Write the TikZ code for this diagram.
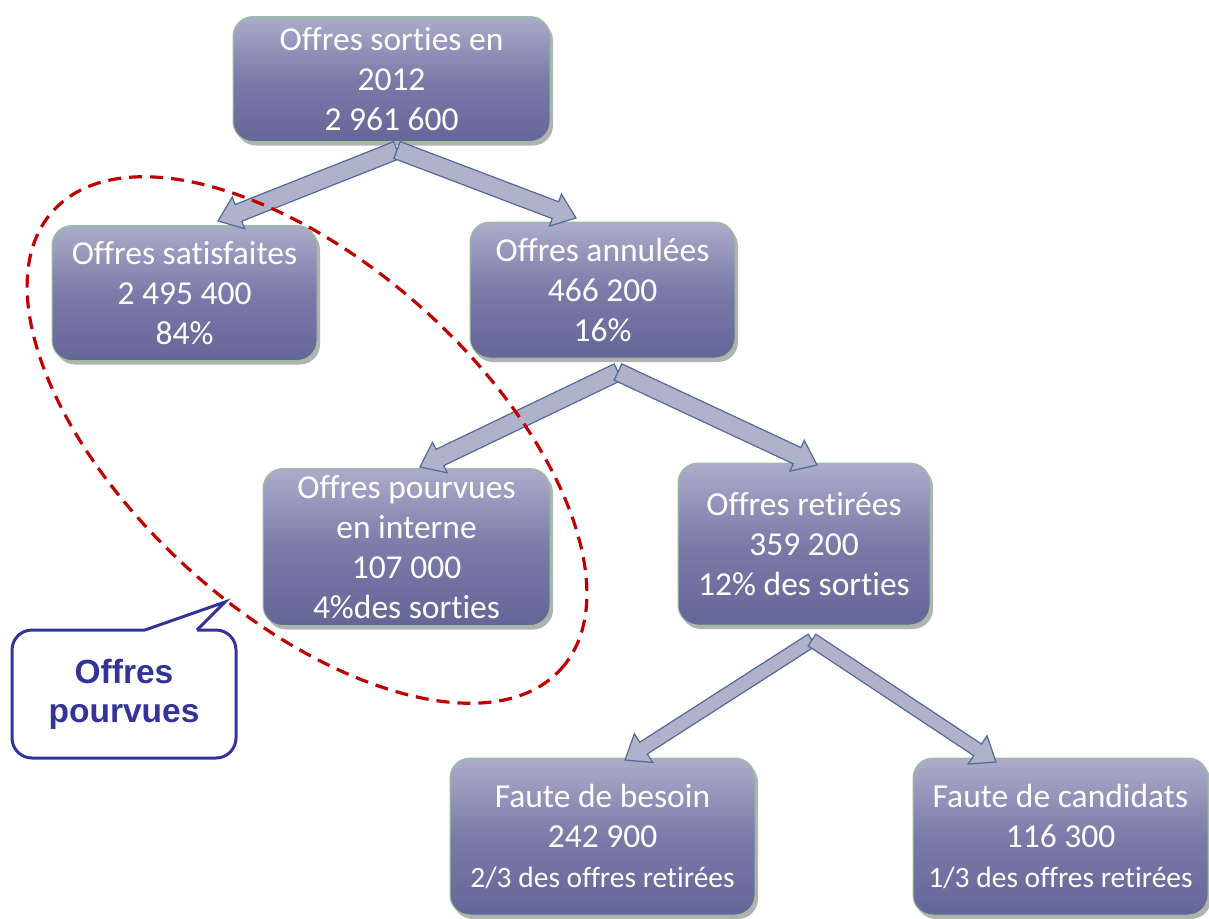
\documentclass[tikz,border=0pt]{standalone}
\usepackage{fontspec}
\setmainfont{Carlito}[Ligatures={NoCommon}]
\newfontfamily\calloutfont{Liberation Sans}
\usetikzlibrary{calc,shadows}
\definecolor{boxtop}{RGB}{172,172,202}
\definecolor{boxmid}{RGB}{122,123,168}
\definecolor{boxbot}{RGB}{101,102,152}
\definecolor{boxline}{RGB}{150,195,150}
\definecolor{arrfill}{RGB}{176,178,203}
\definecolor{arrline}{RGB}{79,107,150}
\definecolor{dashred}{RGB}{192,0,0}
\definecolor{callblue}{RGB}{51,51,153}
\tikzset{
  box/.style={draw=boxline, line width=1pt, rounded corners=20pt,
    top color=boxtop, bottom color=boxbot, middle color=boxmid,
    drop shadow={shadow xshift=3pt, shadow yshift=-4pt, fill=black, opacity=0.3},
    text=white, align=center, inner sep=0pt,
    font=\fontsize{33.5}{40}\selectfont},
  blockarrow/.style={fill=arrfill, draw=arrline, line width=1.2pt, line join=miter},
  ring/.style={draw=dashred, line width=3.2pt, dash pattern=on 13pt off 8pt},
  callbox/.style={draw=callblue, line width=3pt, fill=white, rounded corners=20pt,
    text=callblue, align=center, inner sep=0pt,
    font=\calloutfont\bfseries\fontsize{33.5}{39}\selectfont},
  pointer/.style={draw=callblue, line width=3pt, line join=miter}
}
\newcommand\smallline[1]{{\fontsize{29.5}{38}\selectfont #1}}
% block arrow: [shaft half width]{from}{to}
\newcommand\blockarrow[3][9]{%
  \draw[blockarrow] let \p1=(#2), \p2=(#3),
    \n1={atan2(\y2-\y1,\x2-\x1)}, \n2={veclen(\x2-\x1,\y2-\y1)} in
    ($(\p1)+(\n1+90:#1pt)$)
    -- ($(\p1)+(\n1:{(\n2-22)*1pt})+(\n1+90:#1pt)$)
    -- ($(\p1)+(\n1:{(\n2-22)*1pt})+(\n1+90:17pt)$)
    -- (\p2)
    -- ($(\p1)+(\n1:{(\n2-22)*1pt})+(\n1-90:17pt)$)
    -- ($(\p1)+(\n1:{(\n2-22)*1pt})+(\n1-90:#1pt)$)
    -- ($(\p1)+(\n1-90:#1pt)$) -- cycle;}
\begin{document}
\begin{tikzpicture}[x=1pt,y=-1pt]
\useasboundingbox (0,0) rectangle (1209,918);

% boxes
\node[box, minimum width=317pt, minimum height=125pt] (top) at (391.5,79) {Offres sorties en\\2012\\2 961 600};
\node[box, minimum width=265pt, minimum height=135pt] (sat) at (184.5,293) {Offres satisfaites\\2 495 400\\84\%};
\node[box, minimum width=265pt, minimum height=136pt] (ann) at (602.5,290) {Offres annulées\\466 200\\16\%};
\node[box, minimum width=287pt, minimum height=157pt] (int) at (406.5,547) {Offres pourvues\\en interne\\107 000\\4\%des sorties};
\node[box, minimum width=252pt, minimum height=162pt] (ret) at (804,544) {Offres retirées\\359 200\\12\% des sorties};
\node[box, minimum width=305pt, minimum height=157pt] (bes) at (602.5,836.5) {Faute de besoin\\242 900\\\smallline{2/3 des offres retirées}};
\node[box, minimum width=295pt, minimum height=157pt] (cand) at (1060.5,836.5) {Faute de candidats\\116 300\\\smallline{1/3 des offres retirées}};

% arrow ends
\coordinate (j1) at (397,150);
\coordinate (e1) at (218,221);
\coordinate (e2) at (576,218);
\coordinate (j2) at (618,372);
\coordinate (e3) at (420,467);
\coordinate (e4) at (817,465);
\coordinate (j3) at (812,640);
\coordinate (e5) at (625,760);
\coordinate (e6) at (996,762);

\blockarrow{j1}{e1}
\blockarrow{j1}{e2}
\blockarrow{j2}{e3}
\blockarrow{j2}{e4}
\blockarrow[7]{j3}{e5}
\blockarrow[7]{j3}{e6}

% dashed ring
\draw[ring] [shift={(307,440)}, rotate=-42] (0,0) ellipse [x radius=342pt, y radius=175pt];

% callout
\node[callbox, minimum width=224pt, minimum height=128pt] (callout) at (124,694) {Offres\\pourvues};
\coordinate (tip) at (225,602);
\fill[white] (145,632) -- (145,630) -- (tip) -- (197,630) -- (197,632) -- cycle;
\draw[pointer] (145,630) -- (tip) -- (197,630);
\end{tikzpicture}
\end{document}
